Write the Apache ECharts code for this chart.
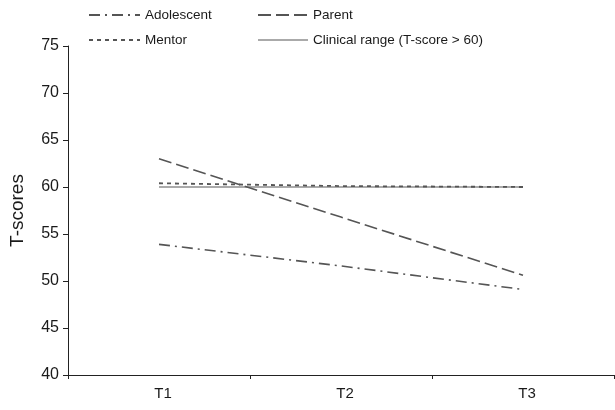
<!DOCTYPE html>
<html>
<head>
<meta charset="utf-8">
<script src="https://cdn.jsdelivr.net/npm/echarts@6/dist/echarts.min.js"></script>
<style>
  html, body { margin: 0; padding: 0; background: #fff; }
  #chart { width: 615px; height: 410px; }
</style>
</head>
<body>
<div id="chart"></div>
<script>
// data
const timePoints = ['T1', 'T2', 'T3'];
const adolescent = [53.9, 51.6, 49.1];
const parent = [63.0, 56.8, 50.6];
const mentor = [60.4, 60.1, 60.0];
const clinical = [60, 60, 60];

const font = 'Liberation Sans, Arial, sans-serif';
const lineColor = '#555';

const chart = echarts.init(document.getElementById('chart'), null, { renderer: 'canvas' });

function lineSeries(name, data, style) {
  return {
    name: name,
    type: 'line',
    data: data,
    symbol: 'none',
    silent: true,
    itemStyle: { color: style.color },
    lineStyle: style,
    z: name === 'Clinical range (T-score > 60)' ? 1 : 2,
  };
}

const legendText = { fontFamily: font, fontSize: 13.5, color: '#1a1a1a' };

const option = {
  animation: false,
  textStyle: { fontFamily: font },
  legend: [
    {
      left: 88, top: 8, orient: 'vertical', padding: 0,
      itemWidth: 51, itemHeight: 10, itemGap: 11,
      itemStyle: { opacity: 0 },
      textStyle: legendText,
      data: ['Adolescent', 'Mentor'],
    },
    {
      left: 257, top: 8, orient: 'vertical', padding: 0,
      itemWidth: 50, itemHeight: 10, itemGap: 11,
      itemStyle: { opacity: 0 },
      textStyle: legendText,
      data: ['Parent', 'Clinical range (T-score > 60)'],
    },
  ],
  grid: { left: 68, right: 1, top: 46, bottom: 35 },
  xAxis: {
    type: 'category',
    data: timePoints,
    boundaryGap: true,
    axisLine: { lineStyle: { color: '#222', width: 1 } },
    axisTick: { show: true, length: 4, lineStyle: { color: '#222' } },
    axisLabel: { color: '#1a1a1a', fontSize: 15, margin: 11, padding: [0, 0, 0, 8], fontFamily: font },
    splitLine: { show: false },
  },
  yAxis: {
    type: 'value',
    min: 40, max: 75, interval: 5,
    name: 'T-scores',
    nameLocation: 'middle',
    nameGap: 41,
    nameRotate: 90,
    nameTextStyle: { color: '#1a1a1a', fontSize: 19, fontFamily: font },
    axisLine: { show: true, lineStyle: { color: '#222', width: 1 } },
    axisTick: { show: true, length: 5, lineStyle: { color: '#222' } },
    axisLabel: { color: '#1a1a1a', fontSize: 16, margin: 9, fontFamily: font },
    splitLine: { show: false },
  },
  series: [
    lineSeries('Adolescent', adolescent, { color: lineColor, width: 1.6, type: [11, 5, 2, 5] }),
    lineSeries('Parent', parent, { color: lineColor, width: 1.6, type: [13, 5] }),
    lineSeries('Mentor', mentor, { color: lineColor, width: 1.8, type: [4, 4] }),
    lineSeries('Clinical range (T-score > 60)', clinical, { color: '#aaa', width: 2, type: 'solid' }),
  ],
};

chart.setOption(option);
</script>
</body>
</html>
